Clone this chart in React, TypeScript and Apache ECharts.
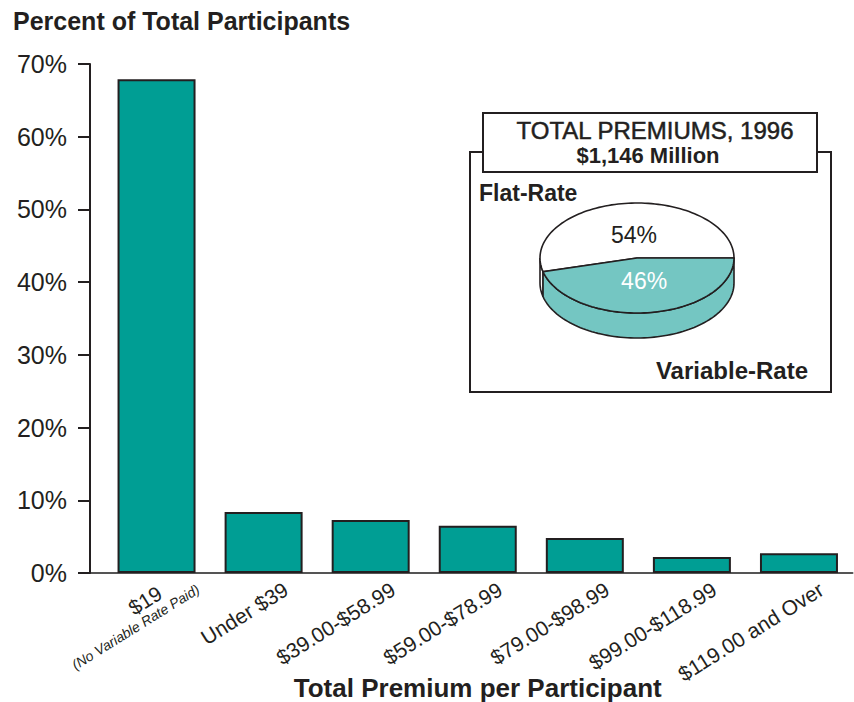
import React, { useEffect, useRef } from "react";
import * as echarts from "echarts";

const categories = [
  "$19",
  "Under $39",
  "$39.00-$58.99",
  "$59.00-$78.99",
  "$79.00-$98.99",
  "$99.00-$118.99",
  "$119.00 and Over",
];
const firstCategoryNote = "(No Variable Rate Paid)";
const percentOfParticipants = [67.9, 8.4, 7.3, 6.5, 4.8, 2.2, 2.7];
const yMin = 0;
const yMax = 70;
const yInterval = 10;

const pieLabels = ["Flat-Rate", "Variable-Rate"];
const pieShares = [54, 46];
const pieColors = ["#FFFFFF", "#74C6C2"];
const pieLabelColors = ["#231F20", "#FFFFFF"];
const insetTitle = "TOTAL PREMIUMS, 1996";
const insetSubtitle = "$1,146 Million";

const yAxisTitle = "Percent of Total Participants";
const xAxisTitle = "Total Premium per Participant";

const FONT = "'Liberation Sans', Arial, Helvetica, sans-serif";
const INK = "#231F20";
const TEAL = "#009E94";

function renderPie(params: any, api: any) {
  const i = params.dataIndex;
  const total = pieShares.reduce((s, v) => s + v, 0);
  let after = 0;
  for (let j = i + 1; j < pieShares.length; j++) after += pieShares[j];
  const a0 = (after / total) * Math.PI * 2;
  const a1 = ((after + api.value(0)) / total) * Math.PI * 2;
  const cx = 637, cy = 258, rx = 97, ry = 55, depth = 25;
  const arc = (from: number, to: number, dy: number) => {
    const n = Math.max(2, Math.ceil(Math.abs(to - from) / (Math.PI / 90)));
    const pts: number[][] = [];
    for (let k = 0; k <= n; k++) {
      const a = from + ((to - from) * k) / n;
      pts.push([cx + rx * Math.cos(a), cy + ry * Math.sin(a) + dy]);
    }
    return pts;
  };
  const style = { fill: pieColors[i], stroke: INK, lineWidth: 1.6 };
  const children: any[] = [];
  const s0 = Math.max(a0, 0);
  const s1 = Math.min(a1, Math.PI);
  if (s1 > s0) {
    children.push({
      type: "polygon",
      shape: { points: arc(s0, s1, 0).concat(arc(s1, s0, depth)) },
      style,
    });
  }
  children.push({
    type: "polygon",
    shape: { points: [[cx, cy], ...arc(a0, a1, 0)] },
    style,
  });
  const mid = (a0 + a1) / 2;
  children.push({
    type: "text",
    x: cx + rx * 0.42 * Math.cos(mid) + 2,
    y: cy + ry * 0.42 * Math.sin(mid),
    style: {
      text: api.value(0) + "%",
      fill: pieLabelColors[i],
      fontSize: 23,
      fontFamily: FONT,
      align: "center",
      verticalAlign: "middle",
    },
  });
  return { type: "group", children };
}

export default function App() {
  const ref = useRef<HTMLDivElement>(null);
  useEffect(() => {
    if (!ref.current) return;
    const chart = echarts.init(ref.current, undefined, { renderer: "svg" });
    const gridBase = {
      top: 64,
      bottom: 129,
      left: 103,
      right: 1.5,
      containLabel: false,
      outerBoundsMode: "none",
    };
    const labelShift = 36;
    chart.setOption({
      animation: false,
      backgroundColor: "#FFFFFF",
      grid: [
        { ...gridBase },
        { ...gridBase, left: 103 + labelShift, right: 1.5 - labelShift },
      ],
      xAxis: [
        {
          type: "category",
          gridIndex: 0,
          data: categories,
          axisLine: { show: true, lineStyle: { color: "#555555", width: 2 } },
          axisTick: { show: false },
          axisLabel: { show: false },
          name: xAxisTitle,
          nameLocation: "middle",
          nameGap: 102,
          nameTextStyle: {
            fontFamily: FONT,
            fontWeight: "bold",
            fontSize: 26,
            color: INK,
          },
        },
        {
          type: "category",
          gridIndex: 1,
          data: categories,
          axisLine: { show: false },
          axisTick: { show: false },
          axisLabel: {
            show: true,
            interval: 0,
            rotate: 32,
            margin: 6,
            fontFamily: FONT,
            fontSize: 21,
            color: INK,
            formatter: (v: string, idx: number) =>
              idx === 0 ? `{a|${v}}\n{b|${firstCategoryNote}}` : `{c|${v}}`,
            rich: {
              a: {
                fontFamily: FONT,
                fontSize: 21,
                color: INK,
                padding: [0, 34, 0, 0],
              },
              b: {
                fontFamily: FONT,
                fontSize: 14,
                fontStyle: "italic",
                color: INK,
              },
              c: {
                fontFamily: FONT,
                fontSize: 21,
                color: INK,
                padding: [0, 16, 0, 0],
              },
            },
          },
        },
      ],
      yAxis: [
        {
          type: "value",
          gridIndex: 0,
          min: yMin,
          max: yMax,
          interval: yInterval,
          offset: 13,
          axisLine: { show: true, lineStyle: { color: INK, width: 2 } },
          axisTick: {
            show: true,
            length: 12,
            lineStyle: { color: INK, width: 2 },
          },
          splitLine: { show: false },
          axisLabel: {
            margin: 23,
            formatter: "{value}%",
            fontFamily: FONT,
            fontSize: 25,
            color: INK,
          },
        },
        { type: "value", gridIndex: 1, show: false },
      ],
      graphic: [
        {
          type: "text",
          left: 13,
          top: 8,
          style: {
            text: yAxisTitle,
            fontFamily: FONT,
            fontWeight: "bold",
            fontSize: 25,
            fill: INK,
          },
        },
        {
          type: "line",
          shape: { x1: 90, y1: 573, x2: 104, y2: 573 },
          style: { stroke: "#555555", lineWidth: 2 },
        },
        {
          type: "rect",
          z: 1,
          shape: { x: 470, y: 152, width: 361, height: 240 },
          style: { fill: "none", stroke: INK, lineWidth: 2 },
        },
        {
          type: "rect",
          z: 2,
          shape: { x: 483, y: 113, width: 334, height: 59 },
          style: { fill: "#FFFFFF", stroke: INK, lineWidth: 2 },
        },
        {
          type: "text",
          z: 3,
          x: 655,
          y: 130,
          style: {
            text: insetTitle,
            fontFamily: FONT,
            fontSize: 24,
            fill: INK,
            stroke: INK,
            lineWidth: 0.5,
            align: "center",
            verticalAlign: "middle",
          },
        },
        {
          type: "text",
          z: 3,
          x: 648,
          y: 155,
          style: {
            text: insetSubtitle,
            fontFamily: FONT,
            fontWeight: "bold",
            fontSize: 22,
            fill: INK,
            align: "center",
            verticalAlign: "middle",
          },
        },
        {
          type: "text",
          z: 3,
          x: 479,
          y: 193,
          style: {
            text: pieLabels[0],
            fontFamily: FONT,
            fontWeight: "bold",
            fontSize: 23,
            fill: INK,
            align: "left",
            verticalAlign: "middle",
          },
        },
        {
          type: "text",
          z: 3,
          x: 808,
          y: 370,
          style: {
            text: pieLabels[1],
            fontFamily: FONT,
            fontWeight: "bold",
            fontSize: 24,
            fill: INK,
            align: "right",
            verticalAlign: "middle",
          },
        },
      ],
      series: [
        {
          type: "bar",
          xAxisIndex: 0,
          yAxisIndex: 0,
          data: percentOfParticipants,
          barWidth: 78,
          itemStyle: { color: TEAL, borderColor: INK, borderWidth: 2 },
          silent: true,
        },
        {
          type: "custom",
          coordinateSystem: "none",
          z: 5,
          data: pieShares.map((v) => [v]),
          renderItem: renderPie,
          silent: true,
        },
      ],
    });
    return () => chart.dispose();
  }, []);
  return (
    <div
      ref={ref}
      style={{ position: "fixed", left: 0, top: 0, width: 854, height: 702 }}
    />
  );
}
